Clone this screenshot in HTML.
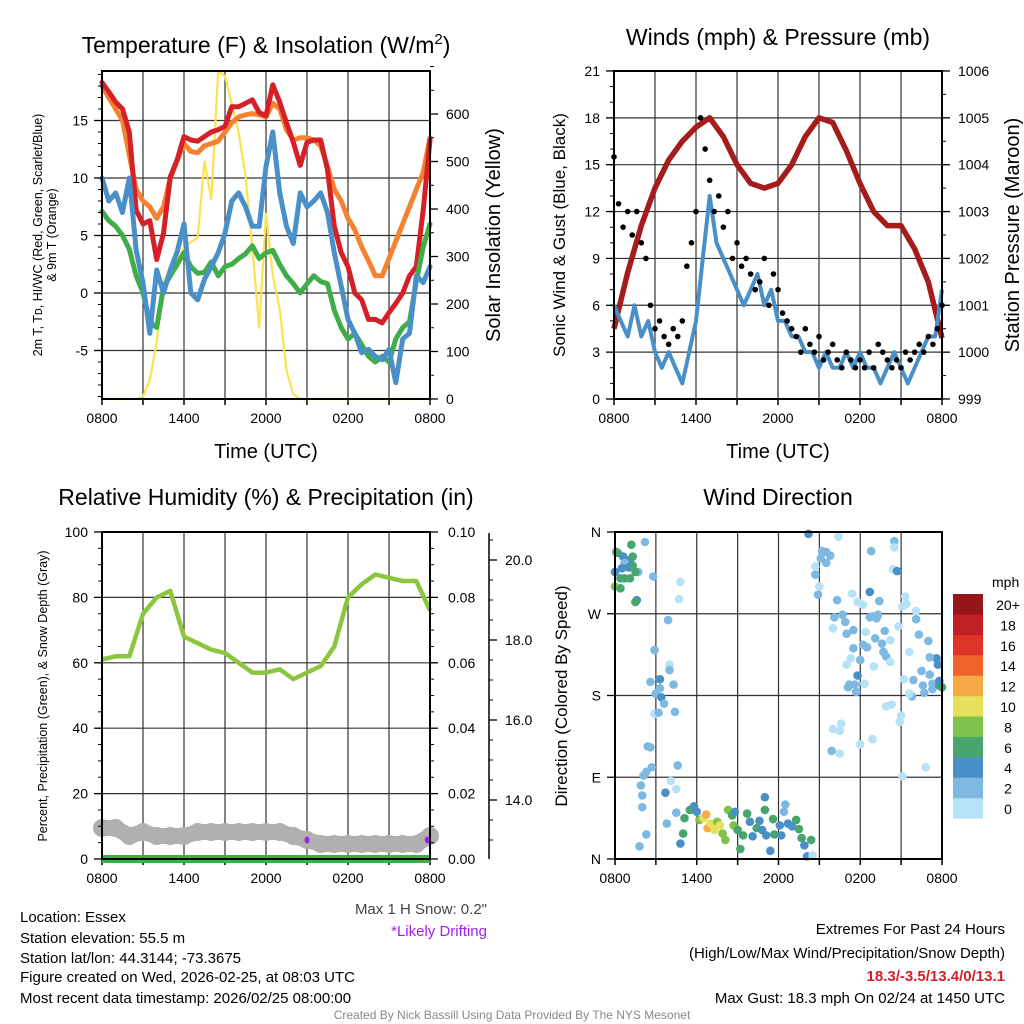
<!DOCTYPE html>
<html><head><meta charset="utf-8">
<style>
body{margin:0;background:#fff;}
svg{display:block;font-family:"Liberation Sans",Arial,sans-serif;}
</style></head>
<body>
<svg id="chart" width="1024" height="1024" viewBox="0 0 1024 1024" xmlns="http://www.w3.org/2000/svg">
<rect width="1024" height="1024" fill="#fff"/>
<g id="g1"></g>
<g id="g2"></g>
<g id="g3"></g>
<g id="g4"></g>
<g font-size="15" fill="#000">
<text x="20" y="922">Location: Essex</text>
<text x="20" y="943">Station elevation: 55.5 m</text>
<text x="20" y="963">Station lat/lon: 44.3144; -73.3675</text>
<text x="20" y="982">Figure created on Wed, 2026-02-25, at 08:03 UTC</text>
<text x="20" y="1003">Most recent data timestamp: 2026/02/25 08:00:00</text>
</g>
<g font-size="15" text-anchor="end">
<text x="1005" y="934">Extremes For Past 24 Hours</text>
<text x="1005" y="958">(High/Low/Max Wind/Precipitation/Snow Depth)</text>
<text x="1005" y="981" fill="#d0202a" font-weight="bold">18.3/-3.5/13.4/0/13.1</text>
<text x="1005" y="1003">Max Gust: 18.3 mph On 02/24 at 1450 UTC</text>
</g>
<text x="512" y="1019" font-size="12" fill="#888" text-anchor="middle">Created By Nick Bassill Using Data Provided By The NYS Mesonet</text>
<text x="487" y="914" font-size="15" fill="#444" text-anchor="end">Max 1 H Snow: 0.2"</text>
<text x="487" y="936" font-size="15" fill="#a020f0" text-anchor="end">*Likely Drifting</text>
</svg>
<script>
// ---- data (half-hourly, 49 samples over 24h unless noted) ----
const timeLabels = ["0800","1400","2000","0200","0800"];
const temp2m = [18.3,17.5,16.6,16,14,7.2,6,6.3,2.9,5.2,10.1,11.6,13.6,13.3,13.2,13.6,14,14.2,14.5,16.2,16.2,16.5,16.8,15.7,15.4,18.1,16.6,14.8,13.1,11.1,13.1,13.3,13.3,10.7,5.8,3.5,2.3,0,-0.6,-2.3,-2.3,-2.6,-1.7,-0.9,0,1.5,2.3,7.2,13.3];
const temp9m = [18,17,16,15,12,9,8,7.5,6.5,7.5,10,11.5,13,12.3,12.2,12.8,13,13.2,14,14.8,15.3,15.5,15.6,15.5,15.3,16.5,16,14.2,13.3,13.5,13.5,13.3,12.8,11,9,8,6.5,5.5,4,2.8,1.5,1.5,3,4.5,6,7.5,9,10.5,13.5];
const dewpt = [7.1,6.3,5.8,5.0,3.8,1.5,0,-2.5,-3,0.5,1.5,2.5,3.5,2.3,1.7,1.8,2.7,1.5,2.3,2.5,3,3.4,4.1,3,3.5,3.7,2.5,1.5,0.8,0,0.8,1.5,1,0.8,-1.5,-3,-4,-3.5,-4.5,-5.5,-6,-5.5,-6,-4,-3,-2.5,1,4,6];
const windChill = [10,8,8.7,7,10,3.7,0.9,-3.5,2,0,2,3.6,6,0,-0.6,1.2,2.3,3.5,5.2,8,8.7,7.5,5.8,5.8,11,14,8.7,5.8,4.3,8.7,7.5,8,8.7,7,3.5,0.6,-2.3,-3.5,-5.2,-4.9,-5.5,-5.8,-4.9,-7.8,-4,-3.5,1.5,0.9,2.3];
const insolation = [0,0,0,0,0,0,5,40,120,250,270,290,320,330,340,500,420,690,680,620,560,470,320,150,390,260,190,60,10,0,0,0,0,0,0,0,0,0,0,0,0,0,0,0,0,0,0,0,0];
const windSpeed = [6,5,4,6,4,5,3,2,3,2,1,3,5,9,13,10,9,8,7,6,7,8,6,7,5,5,4,4,3,3,2,3,2,2,3,2,3,2,2,1,2,3,2,1,2,3,4,4,7];
// gusts every 20 minutes (73 samples)
const windGust = [15.5,12.5,11,12,10.5,12,10,9,6,4.5,5,4,3.5,4.5,4,5,8.5,10,12,18,16,14,12,13,11,12,9,10,8.5,9,8,7,7.5,9,6,8,7,5.5,5,4.5,4,3,4.5,3.5,3,4,2.5,3,3.5,2.5,2,3,2.5,2,2.5,2,3,2,3.5,3,2.5,2,2.5,2,3,2.5,3,3.5,3,4,3.5,4.5,6];
// hourly (25 samples)
const pressure = [1000.5,1001.7,1002.7,1003.5,1004.1,1004.5,1004.8,1005.0,1004.6,1004.0,1003.6,1003.5,1003.6,1004.0,1004.6,1005.0,1004.9,1004.3,1003.6,1003.0,1002.7,1002.7,1002.2,1001.5,1000.3];
const relHum = [61,62,62,75,80,82,68,66,64,63,60,57,57,58,55,57,59,65,80,84,87,86,85,85,76];
const snowDepth = [13.3,13.3,13.1,13.2,13.1,13.1,13.1,13.2,13.2,13.2,13.2,13.2,13.2,13.2,13.1,13.0,12.9,12.9,12.9,12.9,12.9,12.9,12.9,12.9,13.1];
const precip = [0,0,0,0,0,0,0,0,0,0,0,0,0,0,0,0,0,0,0,0,0,0,0,0,0];
const driftHours = [15.0,23.8];
const driftDepth = [13.0,13.0];
// wind direction scatter
const dirHour = [0.1,0.2,0.6,1.1,1.2,1.3,0.7,0.5,1.0,1.3,0.0,1.7,1.5,0.4,0.7,1.1,0.0,0.4,1.6,1.5,2.2,2.8,4.8,4.7,3.9,2.9,4.0,4.0,3.3,2.6,3.3,4.3,3.0,3.4,3.6,2.9,3.2,4.4,2.4,2.6,2.7,2.3,2.1,4.6,4.1,4.5,1.9,2.0,2.0,2.3,1.8,3.7,3.8,4.5,4.8,5.0,5.1,5.5,5.8,6.0,6.2,6.5,6.7,6.8,7.0,7.3,7.5,7.7,8.1,7.9,8.3,8.6,8.8,8.7,9.0,9.2,9.4,9.7,9.9,10.1,10.4,10.6,10.8,11.0,11.0,11.1,11.4,11.6,11.7,12.1,12.2,12.4,12.5,12.7,13.0,13.3,13.5,13.7,13.9,14.1,14.4,14.5,14.2,16.4,15.2,15.5,15.8,15.1,15.5,14.7,14.7,15.0,14.9,18.8,20.5,20.5,20.4,20.7,16.3,17.4,17.8,18.2,18.7,19.4,21.3,21.4,21.1,22.1,22.1,16.1,16.7,16.9,16.0,17.0,17.5,18.7,18.9,19.2,19.3,19.8,20.8,18.4,19.1,19.6,19.7,19.9,20.2,20.2,17.5,18.2,18.5,17.3,17.0,18.0,19.0,17.8,17.2,17.1,17.6,17.7,18.3,22.3,23.0,21.6,23.6,23.7,23.1,22.5,21.2,21.9,23.1,22.6,21.8,21.6,23.3,23.3,22.7,23.8,24.0,23.8,19.9,20.3,21.0,20.9,16.0,16.6,16.5,18.0,18.9,15.9,16.5,22.8,21.1];
const dirDeg = [338,337,333,329,346,333,326,320,321,323,316,316,316,309,309,309,300,298,285,283,349,311,305,286,263,230,214,208,198,195,188,192,182,178,171,160,161,162,124,123,101,96,92,103,86,77,81,70,57,27,14,73,39,51,17,28,45,54,58,52,43,45,49,34,39,32,41,37,21,28,54,48,52,37,32,11,26,50,41,25,34,42,32,54,68,26,9,44,27,37,26,52,60,39,36,43,33,23,15,3,21,4,358,355,339,338,334,331,326,322,313,300,291,339,350,343,319,317,285,292,283,280,294,284,289,281,278,273,264,266,269,261,254,248,252,266,267,265,269,251,256,250,243,237,228,223,217,241,232,236,233,221,214,219,212,202,192,189,192,184,193,247,240,228,221,214,222,207,198,197,203,191,179,182,193,187,183,191,189,196,168,170,158,151,143,149,141,126,132,119,116,101,91];
const dirSpeed = [6,6,4,4,6,6,2,4,4,6,4,2,6,6,6,6,8,6,4,6,2,2,0,0,2,2,0,2,4,2,2,2,2,4,2,0,2,2,2,2,2,2,2,2,0,0,2,2,2,2,2,4,2,2,4,6,6,6,4,4,8,10,12,12,10,10,8,10,8,8,8,6,4,8,6,6,6,6,4,4,6,4,4,6,4,4,4,6,6,4,4,2,2,4,4,6,6,6,4,4,6,0,4,0,2,2,2,2,2,0,2,0,2,2,2,0,0,4,2,0,0,0,4,2,0,0,0,0,2,2,2,2,0,2,2,2,2,2,2,2,0,0,2,2,2,2,0,0,2,2,2,0,0,2,0,4,2,2,2,2,0,2,2,0,4,4,2,2,0,2,2,2,2,0,2,2,2,6,6,4,0,0,0,0,0,0,0,0,0,2,0,0,0,0];
const speedLabels = ["0","2","4","6","8","10","12","14","16","18","20+"];
const speedColors = ["#b5e2f7","#7db9e3","#4a8fc7","#47a56e","#7cc24b","#e6e05a","#f6a945","#ee6429","#de3427","#c21f27","#951519"];

const NS="http://www.w3.org/2000/svg";
function mk(parent,tag,attrs,txt){const e=document.createElementNS(NS,tag);for(const k in attrs)e.setAttribute(k,attrs[k]);if(txt!==undefined)e.textContent=txt;parent.appendChild(e);return e;}

function frame(g,x0,x1,y0,y1,hGrid,yl){
  // vertical gridlines every 3h
  for(let h=3;h<24;h+=3){const x=x0+(x1-x0)*h/24;
    const l=mk(g,'line',{x1:x,x2:x,y1:y0,y2:y1,stroke:'#333','stroke-width':1.2});
    }
  hGrid.forEach(y=>{const l=mk(g,'line',{x1:x0,x2:x1,y1:y,y2:y,stroke:'#333','stroke-width':1.2});
    });
  for(let h=0;h<=24;h+=3){const x=x0+(x1-x0)*h/24;
    mk(g,'line',{x1:x,x2:x,y1:y1,y2:y1+6,stroke:'#000','stroke-width':1.5});}
  timeLabels.forEach((t,i)=>{const tl=mk(g,'text',{x:x0+(x1-x0)*i/4,y:y1+24,'font-size':14,'text-anchor':'middle'},t);
    });
}
function border(g,x0,x1,y0,y1){const r=mk(g,'rect',{x:x0,y:y0,width:x1-x0,height:y1-y0,fill:'none',stroke:'#000','stroke-width':2});
  }
function yTicks(g,x,vals,fy,labels,side,anchorX,minorVals){
  vals.forEach((v,i)=>{const y=fy(v);
    mk(g,'line',{x1:x,x2:x+side*8,y1:y,y2:y,stroke:'#000','stroke-width':1.3});
    const t=mk(g,'text',{x:anchorX,y:y+5,'font-size':14,'text-anchor':side<0?'end':'start'},labels[i]);
    });
  (minorVals||[]).forEach(v=>{const y=fy(v);mk(g,'line',{x1:x,x2:x+side*4,y1:y,y2:y,stroke:'#000','stroke-width':1});});
}
function pathFrom(vals,fx,fy){return vals.map((v,i)=>(i?'L':'M')+fx(i).toFixed(1)+' '+fy(v).toFixed(1)).join(' ');}
function title(g,x,y,txt,name){const t=mk(g,'text',{x:x,y:y,'font-size':23,'text-anchor':'middle'});t.innerHTML=txt;
  return t;}
function vlabel(g,x,y,size,txt,name){const t=mk(g,'text',{x:x,y:y,'font-size':size,'text-anchor':'middle',transform:`rotate(-90 ${x} ${y})`},txt);
  return t;}
const range=(a,b,s)=>{const r=[];for(let v=a;v<=b+1e-9;v+=s)r.push(+v.toFixed(4));return r;};

// ---------- Panel 1 ----------
(function(){
  const g=document.getElementById('g1');const x0=102,x1=430,y0=71,y1=399;
  const fy=v=>293-v*11.5, fw=w=>399-w*0.475, fx=i=>x0+(x1-x0)*i/48;
  frame(g,x0,x1,y0,y1,[15,10,5,0,-5].map(fy));
  const series=[[insolation,'#fde24f',2.2,fw,'insolation-line'],[temp9m,'#f58230',5,fy,'temp-9m-line'],[temp2m,'#d62028',5,fy,'temp-2m-line'],[dewpt,'#3fae49',5,fy,'dewpoint-line'],[windChill,'#4a90c8',5,fy,'windchill-line']];
  series.forEach(s=>{const p=mk(g,'path',{d:pathFrom(s[0],fx,s[3]),fill:'none',stroke:s[1],'stroke-width':s[2],'stroke-linejoin':'round','stroke-linecap':'round'});
    });
  border(g,x0,x1,y0,y1);
  yTicks(g,x0,[15,10,5,0,-5],fy,['15','10','5','0','-5'],-1,x0-14,range(-9,19,1));
  yTicks(g,x1,[0,100,200,300,400,500,600],fw,['0','100','200','300','400','500','600'],1,x1+16,range(0,700,50));
  title(g,266,53,'Temperature (F) &amp; Insolation (W/m<tspan dy="-9" font-size="15">2</tspan><tspan dy="9">)</tspan>','panel1-title');
  vlabel(g,42,235,12.5,'2m T, T\u1D05, HI/WC (Red, Green, Scarlet/Blue)','left-y-axis-title');
  vlabel(g,56,235,12.5,'& 9m T (Orange)','left-y-axis-title-2');
  vlabel(g,500,235,20,'Solar Insolation (Yellow)','right-y-axis-title');
  const t=mk(g,'text',{x:266,y:458,'font-size':20,'text-anchor':'middle'},'Time (UTC)');
  
})();

// ---------- Panel 2 ----------
(function(){
  const g=document.getElementById('g2');const x0=614,x1=942,y0=71,y1=399;
  const fy=v=>399-v*15.62, fp=p=>399-(p-999)*46.86;
  frame(g,x0,x1,y0,y1,range(3,18,3).map(fy));
  const pp=mk(g,'path',{d:pathFrom(pressure,i=>x0+(x1-x0)*i/24,fp),fill:'none',stroke:'#a51c1c','stroke-width':5.5,'stroke-linejoin':'round'});
  
  const wp=mk(g,'path',{d:pathFrom(windSpeed,i=>x0+(x1-x0)*i/48,fy),fill:'none',stroke:'#4a90c8','stroke-width':4,'stroke-linejoin':'round'});
  
  windGust.forEach((v,i)=>{const c=mk(g,'circle',{cx:x0+(x1-x0)*i/72,cy:fy(v),r:2.8,fill:'#000'});
    });
  border(g,x0,x1,y0,y1);
  const lv=range(0,21,3);yTicks(g,x0,lv,fy,lv.map(String),-1,x0-14,range(0,21,1));
  const pv=range(999,1006,1);yTicks(g,x1,pv,fp,pv.map(String),1,x1+16,range(999,1006,0.5));
  title(g,778,45,'Winds (mph) &amp; Pressure (mb)','panel2-title');
  vlabel(g,565,235,17,'Sonic Wind & Gust (Blue, Black)','left-y-axis-title');
  vlabel(g,1019,235,20,'Station Pressure (Maroon)','right-y-axis-title');
  const t=mk(g,'text',{x:778,y:458,'font-size':20,'text-anchor':'middle'},'Time (UTC)');
  
})();

// ---------- Panel 3 ----------
(function(){
  const g=document.getElementById('g3');const x0=102,x1=430,y0=532,y1=859;
  const fy=v=>859-v*3.27, fpr=p=>859-p*3270, fs=s=>800-(s-14)*40, fx=i=>x0+(x1-x0)*i/24;
  frame(g,x0,x1,y0,y1,[20,40,60,80].map(fy));
  const sp=mk(g,'path',{d:pathFrom(snowDepth,fx,fs),fill:'none',stroke:'#b0b0b0','stroke-width':16,'stroke-linecap':'round','stroke-linejoin':'round'});
  
  snowDepth.forEach((v,i)=>{const c=mk(g,'circle',{cx:fx(i),cy:fs(v),r:9,fill:'#b0b0b0'});
    });
  driftHours.forEach((h,i)=>{const c=mk(g,'ellipse',{cx:x0+(x1-x0)*h/24,cy:fs(driftDepth[i]),rx:2.5,ry:3.5,fill:'#a020f0'});
    });
  const pr=mk(g,'path',{d:pathFrom(precip,fx,fpr),fill:'none',stroke:'#3fae49','stroke-width':8});
  
  const rh=mk(g,'path',{d:pathFrom(relHum,fx,fy),fill:'none',stroke:'#8cc63f','stroke-width':4.5,'stroke-linejoin':'round'});
  
  border(g,x0,x1,y0,y1);
  const lv=range(0,100,20);yTicks(g,x0,lv,fy,lv.map(String),-1,x0-14,range(0,100,5));
  const pv=range(0,0.1,0.02);yTicks(g,x1,pv,fpr,pv.map(v=>v.toFixed(2)),1,x1+18,range(0,0.1,0.005));
  const ax=mk(g,'line',{x1:489,x2:489,y1:533,y2:859,stroke:'#000','stroke-width':1.5});
  
  const sv=[14,16,18,20];yTicks(g,489,sv,fs,sv.map(v=>v.toFixed(1)),1,505,range(12.5,20.5,0.5).filter(v=>fs(v)>=533&&fs(v)<=859));
  title(g,266,505,'Relative Humidity (%) &amp; Precipitation (in)','panel3-title');
  vlabel(g,47,696,12.5,'Percent, Precipitation (Green), & Snow Depth (Gray)','left-y-axis-title');
})();

// ---------- Panel 4 ----------
(function(){
  const g=document.getElementById('g4');const x0=615,x1=942,y0=532,y1=859;
  const fd=d=>859-d*(327/360), fx=h=>x0+(x1-x0)*h/24;
  frame(g,x0,x1,y0,y1,[90,180,270].map(fd));
  dirHour.forEach((h,i)=>{const c=mk(g,'circle',{cx:fx(h),cy:fd(dirDeg[i]),r:4.3,fill:speedColors[Math.min(10,Math.floor(dirSpeed[i]/2))]});
    });
  border(g,x0,x1,y0,y1);
  yTicks(g,x0,[0,90,180,270,360],fd,['N','E','S','W','N'],-1,x0-14,[]);
  title(g,778,505,'Wind Direction','panel4-title');
  vlabel(g,567,696,17,'Direction (Colored By Speed)','left-y-axis-title');
  const cb=mk(g,'g',{});
  speedColors.forEach((c,i)=>{const y=798-i*20.4;
    const r=mk(cb,'rect',{x:953,y:y,width:30,height:20.6,fill:c});
    
    const t=mk(cb,'text',{x:1008,y:y+16,'font-size':14,'text-anchor':'middle'},speedLabels[i]);
    });
  const u=mk(cb,'text',{x:992,y:587,'font-size':14},'mph');
  
})();
</script>
</body></html>
